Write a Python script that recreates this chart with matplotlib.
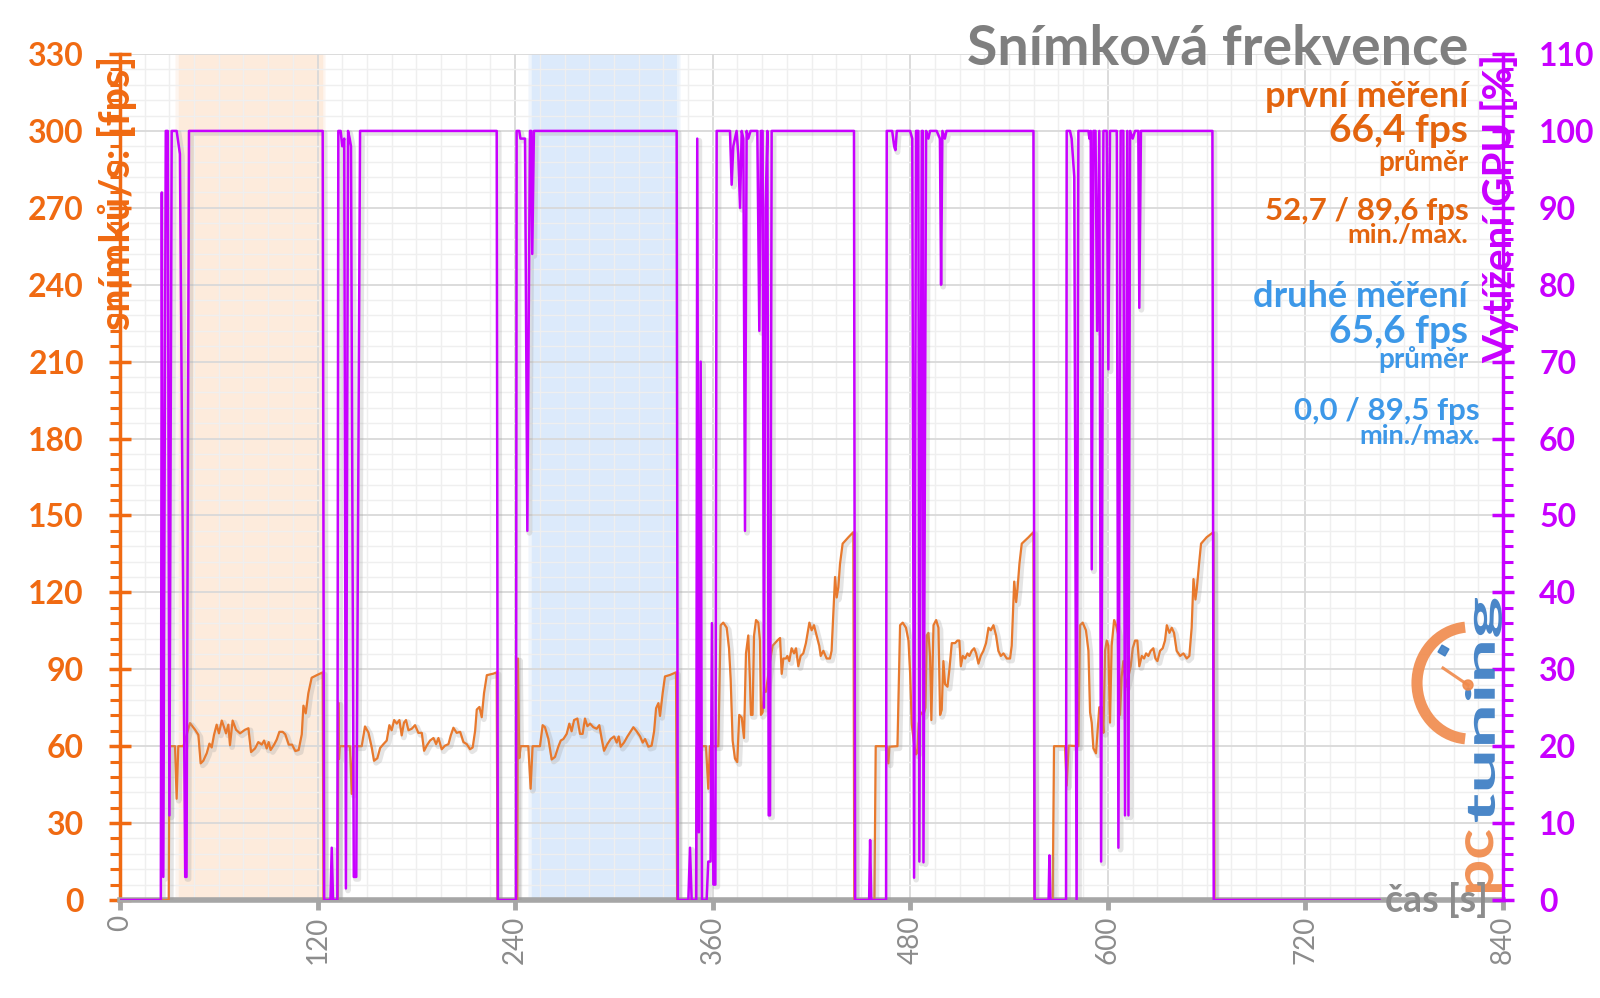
import matplotlib
matplotlib.use("Agg")
import matplotlib.pyplot as plt
import matplotlib.patheffects as pe
from matplotlib.ticker import MultipleLocator
from matplotlib.patches import Arc, Circle, Rectangle, PathPatch
from matplotlib.textpath import TextPath
from matplotlib.transforms import Affine2D
from matplotlib.font_manager import FontProperties

plt.rcParams['font.family'] = ['Lato', 'DejaVu Sans']

# ---------------- data ----------------
fps_time = [0, 29.6, 30.0, 33.4, 34.4, 35.4, 38.5, 42.5, 45.6, 47.6, 49.0, 50.6, 52.7, 54.3, 55.7, 57.1, 58.7,
            60.1, 61.8, 63.2, 64.4, 65.8, 66.8, 68.4, 70.5, 72.9, 75.9, 78.0, 79.6, 82.0, 84.0, 86.1, 87.5,
            89.1, 90.3, 91.5, 93.6, 95.2, 96.8, 98.8, 100.4, 102.5, 104.5, 106.5, 108.5, 110.4, 111.4, 112.8,
            114.4, 116.4, 119.5, 123.1, 123.6,
            132.3, 132.6, 133.0, 133.5, 139.7, 140.7, 141.8, 146.8, 148.8, 150.9, 152.9, 154.3, 156.3, 158.0,
            160.0, 162.0, 163.6, 165.0, 166.5, 168.1, 169.7, 171.1, 172.5, 173.7, 175.2, 177.2, 179.2, 181.2,
            183.3, 184.7, 186.3, 188.3, 190.4, 192.0, 193.4, 195.4, 197.4, 199.5, 200.9, 202.5, 204.5, 206.6,
            208.6, 210.6, 212.6, 214.2, 215.7, 216.7, 218.3, 219.7, 221.1, 222.8, 226.8, 228.8, 229.3,
            241.3, 241.7, 242.5, 243.4, 248.0, 249.4, 250.6, 255.1, 256.7, 258.1, 260.2, 262.2, 264.2, 266.2,
            267.7, 269.3, 271.3, 272.9, 274.3, 275.8, 277.8, 279.4, 281.0, 282.4, 283.9, 285.5, 287.5, 289.5,
            291.1, 292.6, 294.0, 296.0, 298.0, 300.1, 301.7, 302.9, 304.1, 306.1, 308.2, 310.2, 311.8, 313.8,
            315.9, 317.5, 318.9, 320.9, 322.9, 324.4, 325.6, 327.0, 328.0, 329.6, 331.0, 334.1, 337.7, 338.4,
            349.8, 350.2, 355.9, 357.3, 358.3, 363.4, 364.8, 366.4, 368.5, 369.9, 370.9, 372.1, 373.5, 374.9,
            376.1, 377.6, 379.0, 380.2, 381.6, 382.6, 383.2, 384.2, 385.1, 386.3, 387.7, 388.7, 389.3, 390.3,
            391.1, 392.3, 393.6, 394.8, 396.4, 397.8, 399.2, 400.9, 401.9, 402.9, 404.5, 405.3, 406.5, 407.9,
            409.4, 410.6, 412.0, 413.4, 415.0, 416.6, 418.7, 420.1, 421.5, 423.1, 424.7, 425.6, 427.2, 429.2,
            431.2, 432.2, 433.3, 434.3, 435.3, 436.3, 437.3, 438.9, 442.4, 445.4, 446.0,
            458.2, 459.0, 465.7, 466.7, 467.3, 472.2, 473.8, 475.4, 477.4, 478.9, 479.9, 480.9, 482.3, 483.5,
            484.3, 485.1, 486.4, 488.0, 489.2, 490.0, 491.0, 492.0, 492.8, 494.1, 495.7, 497.1, 498.1, 499.1,
            500.1, 501.1, 502.6, 503.8, 505.2, 507.2, 508.6, 509.8, 510.7, 511.9, 513.3, 514.7, 515.9, 517.3,
            518.8, 520.0, 521.4, 522.8, 524.4, 526.0, 527.5, 528.9, 530.5, 532.1, 533.5, 535.0, 536.6, 538.6,
            540.6, 541.6, 543.1, 544.3, 545.1, 546.3, 547.7, 551.8, 554.8, 555.4,
            566.5, 567.3, 574.0, 575.0, 576.2, 582.1, 583.1, 584.7, 586.7, 588.2, 589.2, 590.2, 591.2, 592.8,
            593.6, 594.8, 596.3, 597.3, 598.3, 599.3, 600.3, 601.3, 602.3, 603.8, 605.0, 606.4, 607.4, 608.4,
            609.4, 611.0, 612.5, 613.9, 615.1, 616.5, 617.9, 619.1, 620.6, 622.0, 623.2, 624.6, 626.0, 627.6,
            628.9, 630.1, 631.7, 633.3, 634.7, 635.8, 637.4, 638.8, 640.2, 641.8, 643.9, 645.9, 647.9, 649.5,
            650.9, 652.0, 653.2, 654.0, 655.4, 656.6, 660.0, 664.1, 664.8, 765.0]
fps_value = [0, 0, 60, 60, 39.5, 60, 60, 69, 66.4, 64.4, 53.3, 54.3, 57.3, 61.0, 59.5, 64.4, 68.4,
             65.0, 70.0, 67.4, 65.0, 68.4, 60.4, 70.0, 66.4, 65.0, 66.4, 67.0, 57.7, 59.1, 61.6, 60.6, 62.2,
             59.1, 61.6, 58.5, 60.6, 62.6, 65.6, 65.6, 64.6, 60.6, 60.6, 58.1, 58.5, 64.6, 75.8, 72.8,
             80.7, 86.7, 87.7, 88.8, 0,
             0, 77, 55, 60, 60, 41.4, 60, 60, 67.7, 65.3, 59.5, 54.3, 55.3, 59.3,
             60.8, 62.2, 68.2, 66.2, 70.2, 68.8, 70.2, 64.2, 69.2, 70.2, 66.2, 66.8, 68.2, 65.2,
             65.2, 58.2, 60.2, 62.2, 63.2, 60.8, 63.2, 58.8, 60.2, 60.8, 64.2, 67.2, 65.2, 65.6,
             61.6, 60.8, 58.8, 59.5, 66.0, 74.3, 75.3, 71.3, 80.7, 87.7, 88.3, 88.8, 0,
             0, 94.2, 55.3, 60, 60, 43.4, 60, 60, 68.2, 67.4, 62.8, 54.8, 55.8, 59.8,
             62.2, 62.8, 64.8, 68.8, 65.8, 70.2, 70.8, 64.8, 64.8, 70.8, 67.8, 68.8, 67.4, 66.8,
             68.2, 62.8, 58.2, 60.8, 62.8, 63.8, 61.4, 63.8, 59.8, 61.4, 63.8, 65.8, 67.4, 65.8,
             63.8, 61.4, 62.8, 59.8, 60.2, 65.8, 74.8, 76.8, 71.8, 80.7, 87.2, 87.8, 88.8, 0,
             0, 60, 60, 43.4, 60, 60, 107.2, 108.2, 106.2, 98.2, 86.2, 62.2, 55.2, 53.8,
             72.2, 71.2, 63.2, 96.2, 103.2, 86.0, 72.2, 72.2, 103.2, 109.2, 108.2, 101.2, 72.2, 73.2,
             81.2, 81.2, 87.2, 93.2, 99.2, 100.2, 101.2, 102.2, 88.2, 94.2, 94.2, 95.2, 93.2, 98.2,
             96.2, 98.2, 91.2, 95.2, 96.2, 100.2, 108.2, 105.2, 107.2, 103.2, 99.2, 95.2, 97.2, 94.2,
             94.2, 97.2, 112.0, 126.0, 118.0, 122.0, 131.0, 139.0, 141.5, 143.5, 0,
             0, 60, 60, 53.3, 59.8, 60, 107.2, 108.2, 106.2, 101.2, 88.5, 68.6, 60.8, 56.8,
             57.6, 68.8, 73.2, 72.2, 75.0, 103.2, 104.2, 95.0, 70.2, 107.2, 109.2, 106.2, 72.2, 74.2,
             93.2, 84.2, 83.2, 90.2, 100.2, 100.2, 101.2, 101.2, 91.2, 95.2, 94.2, 96.2, 95.2, 97.2,
             98.2, 96.2, 92.2, 95.2, 97.2, 100.2, 106.2, 105.2, 107.2, 103.2, 97.2, 95.2, 96.2, 94.2,
             94.2, 99.2, 124.2, 116.2, 121.2, 131.2, 139.0, 141.5, 143.5, 0,
             0, 60, 60, 44.6, 60.2, 60, 107.2, 108.2, 105.2, 97.2, 73.2, 69.2, 59.2, 57.2,
             64.2, 75.2, 75.2, 65.2, 97.2, 101.2, 99.2, 69.2, 99.2, 109.2, 107.2, 103.2, 72.2, 87.2,
             93.2, 83.2, 87.2, 91.2, 98.2, 101.2, 101.2, 91.2, 95.2, 94.2, 96.2, 95.2, 97.2, 98.2,
             94.2, 93.2, 97.2, 98.2, 101.2, 107.2, 104.2, 106.2, 104.2, 97.2, 95.2, 96.2, 94.2, 95.2,
             106.2, 125.2, 117.2, 121.2, 131.2, 139.0, 141.5, 143.5, 0, 0]

gpu_time = [0, 24.8, 25.4, 26.3, 27.8, 29.0, 30.0, 31.4, 34.4, 35.4, 36.4, 39.6, 40.4, 41.9, 123.1, 124.0,
            127.8, 128.6, 129.4, 132.0, 132.6, 134.0, 135.0, 136.2, 137.2, 138.5, 139.5, 140.3, 142.0, 143.5,
            145.8, 228.8, 229.5,
            240.5, 240.9, 242.5, 243.2, 246.0, 247.4, 249.0, 249.8, 250.4, 251.4, 338.1, 338.8,
            345.2, 346.2, 347.2, 350.0, 350.6, 351.6, 352.7, 353.5, 356.3, 357.3, 358.7, 359.5, 360.4, 361.6,
            362.4, 370.5, 371.5, 372.5, 373.5, 374.5, 375.5, 376.6, 377.6, 378.6, 379.6, 380.6, 381.6, 383.0,
            387.1, 388.3, 389.3, 390.3, 391.1, 392.1, 393.2, 394.0, 394.8, 395.8, 445.8, 446.5,
            455.0, 455.6, 456.3, 465.3, 465.7, 469.0, 470.2, 471.0, 471.8, 479.9, 481.2, 482.3, 483.5, 484.9,
            485.5, 487.0, 487.6, 488.0, 489.6, 491.0, 492.0, 496.0, 498.0, 498.7, 499.5, 501.0, 502.0, 554.8,
            555.5,
            564.0, 564.5, 565.1, 574.6, 575.0, 577.0, 578.0, 579.6, 581.0, 582.1, 588.2, 588.8, 589.6, 590.2,
            591.2, 592.5, 593.5, 594.8, 595.9, 597.3, 599.3, 600.3, 601.3, 605.4, 606.4, 607.8, 609.4, 610.4,
            611.8, 612.5, 613.5, 615.1, 616.5, 618.5, 619.1, 620.1, 663.5, 664.3, 765.0]
gpu_value = [0, 0, 92, 3, 100, 100, 11, 100, 100, 98.5, 97, 3, 3, 100, 100, 0,
             0, 6.8, 0, 0, 100, 100, 98, 99, 1.5, 100, 99, 98, 3, 3,
             100, 100, 0,
             0, 100, 100, 99, 99, 48, 100, 100, 84, 100, 100, 0,
             0, 6.8, 0, 0, 99, 8.8, 70, 0, 0, 5, 5, 36, 2, 2,
             100, 100, 93, 98, 99, 100, 97, 90, 100, 99, 48, 100, 99, 100,
             100, 74, 100, 100, 25, 90, 100, 11, 11, 100, 100, 0,
             0, 7.8, 0, 0, 100, 100, 98, 97.5, 100, 100, 99, 2.9, 100, 100,
             5, 100, 100, 4.9, 100, 99, 100, 100, 99, 80, 100, 99, 100, 100,
             0,
             0, 5.8, 0, 0, 100, 100, 99, 94, 0, 100, 100, 99, 100, 43,
             100, 100, 74, 100, 5, 100, 100, 69, 100, 100, 6.8, 100, 100, 11,
             100, 11, 100, 99, 100, 100, 77, 100, 100, 0, 0]

shade_first = (35.8, 123.0)     # první měření
shade_second = (250.2, 338.5)   # druhé měření
x_ticks = [0, 120, 240, 360, 480, 600, 720, 840]

# ---------------- style ----------------
ORANGE_T = '#f06a12'
ORANGE_L = '#e8792d'
ORANGE_B = '#e3640e'
MAGENTA = '#c800ff'
BLUE_T = '#3d98e8'
GRAY_T = '#7f7f7f'
GRAY_AX = '#a6a6a6'

W, H = 1600, 998
fig = plt.figure(figsize=(16, 9.98), dpi=100)
L, R, B, T = 120, 1503, 900, 54
ax = fig.add_axes([L / W, 1 - B / H, (R - L) / W, (B - T) / H])
ax.set_xlim(0, 840)
ax.set_ylim(0, 330)

# shaded windows with soft edges
def soft_span(a, b, color):
    ax.axvspan(a, b, color=color, lw=0, zorder=0.5)
    for d in (0.8, 1.6, 2.4):
        ax.axvspan(a - d, b + d, color=color, alpha=0.25, lw=0, zorder=0.4)

soft_span(*shade_first, '#fdebdc')
soft_span(*shade_second, '#dceafb')

ax.xaxis.set_major_locator(MultipleLocator(120))
ax.xaxis.set_minor_locator(MultipleLocator(15))
ax.yaxis.set_major_locator(MultipleLocator(30))
ax.yaxis.set_minor_locator(MultipleLocator(6))
ax.grid(which='major', color='#d9d9d9', lw=1.3, zorder=1)
ax.grid(which='minor', color='#efefef', lw=1.0, zorder=1)
ax.set_xticks(x_ticks)

for s in ('top', 'right'):
    ax.spines[s].set_visible(False)
ax.spines['bottom'].set_color(GRAY_AX)
ax.spines['bottom'].set_linewidth(4)
ax.spines['left'].set_color(ORANGE_T)
ax.spines['left'].set_linewidth(2.5)

ax.tick_params(axis='x', which='major', direction='out', length=7, width=3.5, color=GRAY_AX,
               labelcolor='#8c8c8c', labelsize=20, labelrotation=90, pad=4)
ax.tick_params(axis='x', which='minor', length=0)
ax.tick_params(axis='y', which='major', direction='inout', length=16, width=2.5, color=ORANGE_T,
               labelcolor=ORANGE_T, labelsize=23, pad=18)
ax.tick_params(axis='y', which='minor', direction='out', length=7, width=2.2, color=ORANGE_T)
for lab in ax.get_yticklabels():
    lab.set_fontweight('bold')

shadow = [pe.SimpleLineShadow(offset=(1.5, -1.5), shadow_color='#999999', alpha=0.25, linewidth=4),
          pe.Normal()]
ax.plot(fps_time, fps_value, color=ORANGE_L, lw=1.6, zorder=3, path_effects=shadow)

ax2 = ax.twinx()
ax2.set_ylim(0, 110)
ax2.yaxis.set_major_locator(MultipleLocator(10))
ax2.yaxis.set_minor_locator(MultipleLocator(2))
for s in ('top', 'left', 'bottom'):
    ax2.spines[s].set_visible(False)
ax2.spines['right'].set_color(MAGENTA)
ax2.spines['right'].set_linewidth(2.5)
ax2.tick_params(axis='y', which='major', direction='inout', length=16, width=2.5, color=MAGENTA,
                labelcolor=MAGENTA, labelsize=23, pad=18)
ax2.tick_params(axis='y', which='minor', direction='out', length=7, width=2.2, color=MAGENTA)
for lab in ax2.get_yticklabels():
    lab.set_fontweight('bold')
ax2.plot(gpu_time, gpu_value, color=MAGENTA, lw=1.8, zorder=3, path_effects=shadow)

# ---------------- texts ----------------
def ftxt(x, y, s, **kw):
    kw.setdefault('va', 'baseline')
    return fig.text(x / W, 1 - y / H, s, **kw)

RX = 1468
ftxt(RX, 65, 'Snímková frekvence', ha='right', fontsize=40, fontweight='bold', color=GRAY_T)
ftxt(RX, 107, 'první měření', ha='right', fontsize=26, fontweight='bold', color=ORANGE_B)
ftxt(RX, 142, '66,4 fps', ha='right', fontsize=28, fontweight='bold', color=ORANGE_B)
ftxt(RX, 171, 'průměr', ha='right', fontsize=20, fontweight='bold', color=ORANGE_B)
ftxt(1469, 220, '52,7 / 89,6 fps', ha='right', fontsize=22.5, fontweight='bold', color=ORANGE_B)
ftxt(RX, 243, 'min./max.', ha='right', fontsize=19.5, fontweight='bold', color=ORANGE_B)
ftxt(RX, 307, 'druhé měření', ha='right', fontsize=26, fontweight='bold', color=BLUE_T)
ftxt(RX, 343, '65,6 fps', ha='right', fontsize=28, fontweight='bold', color=BLUE_T)
ftxt(RX, 368, 'průměr', ha='right', fontsize=20, fontweight='bold', color=BLUE_T)
ftxt(1480, 420, '0,0 / 89,5 fps', ha='right', fontsize=22.5, fontweight='bold', color=BLUE_T)
ftxt(1480, 444, 'min./max.', ha='right', fontsize=19.5, fontweight='bold', color=BLUE_T)

ftxt(117, 56, 'snímků/s: [fps]', ha='center', va='top', rotation=90, fontsize=30,
     fontweight='bold', color=ORANGE_T)
ftxt(1500, 54, 'Vytížení GPU [%]', ha='center', va='top', rotation=90, fontsize=29,
     fontweight='bold', color=MAGENTA)
ftxt(1385, 900, 'čas [s]', ha='left', va='center', fontsize=27, fontweight='bold', color='#8c8c8c')

# ---------------- logo (pctuning), in figure pixels with y pointing up ----------------
LOGO_O = '#f08a4b'
LOGO_B = '#3b7dc4'
lax = fig.add_axes([0, 0, 1, 1], facecolor='none')
lax.set_xlim(0, W)
lax.set_ylim(0, H)
lax.axis('off')

def logo_word(word, x0, x1, ytop, ybot, color):
    """Draw a word rotated 90 deg, stretched into the pixel box (ytop/ybot from the top)."""
    tp = TextPath((0, 0), word, size=100, prop=FontProperties(family='Lato', weight='bold'))
    bb = tp.get_extents()
    length = ybot - ytop
    thick = x1 - x0
    tr = (Affine2D().translate(-bb.x0, -bb.y0)
          .scale(length / bb.width, thick / bb.height)
          .rotate_deg(90)
          .translate(x1, H - ybot))
    lax.add_patch(PathPatch(tr.transform_path(tp), color=color, lw=0, alpha=0.92))

logo_word('tuning', 1465, 1502, 598, 822, LOGO_B)
logo_word('pc', 1465, 1502, 830, 892, LOGO_O)

cy = H - 683
lax.add_patch(Arc((1470, cy), 106, 112, theta1=95, theta2=265, color=LOGO_O, lw=8, alpha=0.9))
lax.plot([1443, 1468], [H - 668, H - 685], color=LOGO_O, lw=2.2, alpha=0.9)
lax.add_patch(Circle((1468, H - 685), 5, color=LOGO_O, alpha=0.9))
lax.add_patch(Rectangle((1438, H - 652), 8, 8, angle=-30, color=LOGO_B, alpha=0.9))

fig.savefig('out.png', dpi=100)
